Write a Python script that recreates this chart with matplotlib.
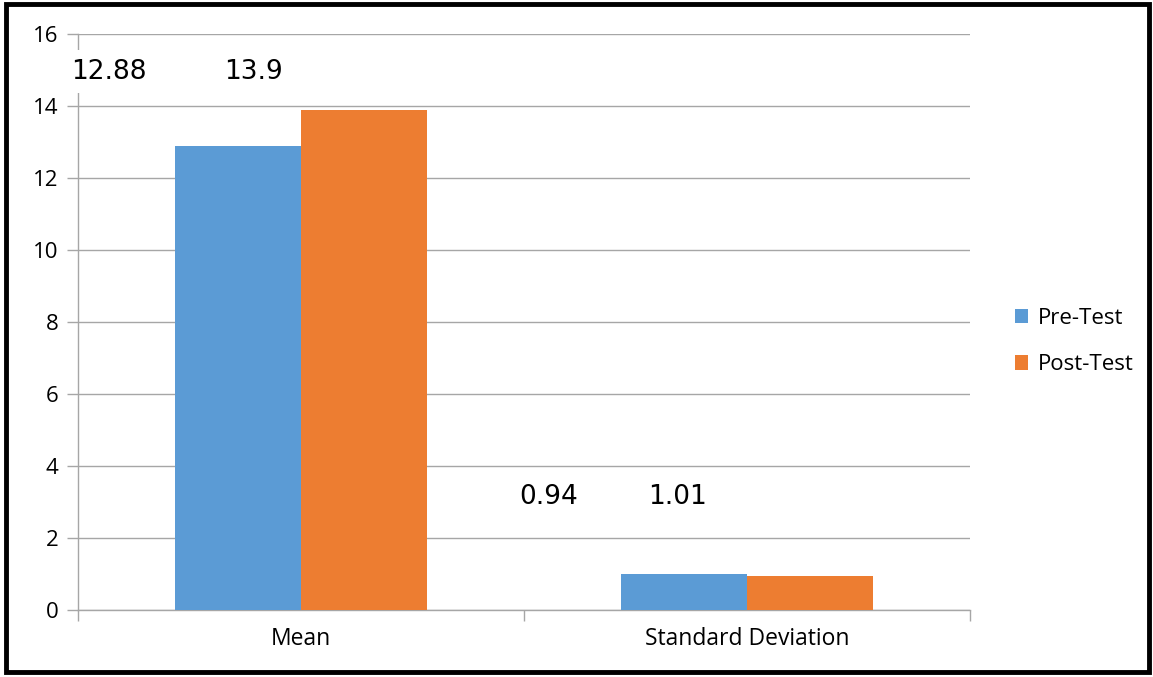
import matplotlib.pyplot as plt
from matplotlib.patches import Rectangle
import numpy as np

# pre/post test scores
categories = ["Mean", "Standard Deviation"]
pre_test = [12.88, 1.01]
post_test = [13.9, 0.94]
series_names = ["Pre-Test", "Post-Test"]

# free value boxes above each group: (x, y, text)
value_notes = [(-0.515, 14.95, f"{pre_test[0]:g}"),
               (-0.172, 14.95, f"{post_test[0]:g}"),
               (0.49, 3.15, f"{post_test[1]:g}"),
               (0.778, 3.15, f"{pre_test[1]:g}")]

blue = "#5B9BD5"
orange = "#ED7D31"
grid_col = "#A6A6A6"

fig = plt.figure(figsize=(11.53, 6.77), dpi=100)
ax = fig.add_axes([0.0677, 0.0990, 0.7736, 0.8508])

x = np.arange(len(categories))
w = 0.283
ax.bar(x - w / 2, pre_test, w, color=blue, label=series_names[0], zorder=3)
ax.bar(x + w / 2, post_test, w, color=orange, label=series_names[1], zorder=3)

ax.set_xlim(-0.5, 1.5)
ax.set_ylim(0, 16)
ax.set_yticks(range(0, 17, 2))
ax.yaxis.grid(True, color=grid_col, lw=1)
ax.set_axisbelow(True)

ax.set_xticks(x)
ax.set_xticklabels(categories, fontsize=16.5, family="Open Sans")
ax.tick_params(axis="x", which="major", length=0, pad=12)
ax.set_xticks([-0.5, 0.5, 1.5], minor=True)
ax.tick_params(axis="x", which="minor", length=8, color=grid_col, width=1)
ax.tick_params(axis="y", length=8, color=grid_col, width=1, labelsize=16, pad=6)
for lab in ax.get_yticklabels():
    lab.set_family("Open Sans")

for s in ["top", "right"]:
    ax.spines[s].set_visible(False)
for s in ["left", "bottom"]:
    ax.spines[s].set_color(grid_col)
    ax.spines[s].set_linewidth(1)

for tx, ty, t in value_notes:
    ax.text(tx, ty, t, fontsize=19, va="center", ha="left", zorder=4,
            bbox=dict(facecolor="white", edgecolor="none", pad=6))

ax.legend(loc="center left", bbox_to_anchor=(1.028, 0.466), frameon=False,
          prop={"family": "Open Sans", "size": 16}, handlelength=0.6,
          handleheight=0.6, handletextpad=0.45, labelspacing=1.15)

# black frame round the whole figure
fig.patches.append(Rectangle((0.0055, 0.0075), 0.991, 0.987, transform=fig.transFigure,
                             fill=False, edgecolor="black", lw=3.5))

fig.savefig("out.png", dpi=100)
